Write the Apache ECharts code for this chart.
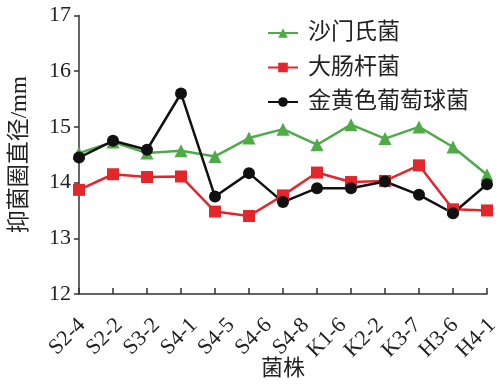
<!DOCTYPE html>
<html>
<head>
<meta charset="utf-8">
<script src="https://cdn.jsdelivr.net/npm/echarts@6/dist/echarts.min.js"></script>
<style>
  html, body { margin: 0; padding: 0; background: #fff; }
  #chart { width: 502px; height: 385px; }
</style>
</head>
<body>
<div id="chart"></div>
<script>
// Strain labels along the bottom axis
const strainLabels = ['S2-4', 'S2-2', 'S3-2', 'S4-1', 'S4-5', 'S4-6', 'S4-8', 'K1-6', 'K2-2', 'K3-7', 'H3-6', 'H4-1'];
// Measurement positions (one tick each)
const positions = ['1', '2', '3', '4', '5', '6', '7', '8', '9', '10', '11', '12', '13'];

// Inhibition zone diameters (mm)
const salmonella = [14.53, 14.73, 14.53, 14.57, 14.47, 14.80, 14.96, 14.68, 15.04, 14.79, 15.00, 14.64, 14.14];
const ecoli      = [13.87, 14.15, 14.10, 14.11, 13.48, 13.40, 13.77, 14.18, 14.01, 14.03, 14.31, 13.52, 13.50];
const saureus    = [14.45, 14.75, 14.59, 15.60, 13.75, 14.17, 13.65, 13.90, 13.90, 14.02, 13.78, 13.45, 13.97];

const seriesNames = ['沙门氏菌', '大肠杆菌', '金黄色葡萄球菌'];
const yTicks = { min: 12, max: 17, step: 1 };

const FONT = '"Liberation Serif", "Noto Sans CJK SC", serif';
const AXIS_COLOR = '#333';
const TEXT_COLOR = '#222';

const chart = echarts.init(document.getElementById('chart'), null, { renderer: 'canvas' });

function lineSeries(name, data, color, symbol, size) {
  return {
    name: name,
    type: 'line',
    xAxisIndex: 0,
    yAxisIndex: 0,
    data: data,
    symbol: symbol,
    symbolSize: size,
    lineStyle: { color: color, width: 2.5 },
    itemStyle: { color: color },
    animation: false
  };
}

chart.setOption({
  animation: false,
  backgroundColor: '#fff',
  grid: [
    // plotting area
    { left: 70, right: 15, top: 15.5, bottom: 81 },
    // strain label strip, nudged right of the tick row
    { left: 82, right: 3, top: 15.5, bottom: 81 }
  ],
  legend: {
    orient: 'vertical',
    left: 262,
    top: 16.5,
    itemWidth: 30,
    itemHeight: 12,
    itemGap: 11.5,
    data: seriesNames,
    textStyle: { fontFamily: FONT, fontSize: 23, color: TEXT_COLOR, padding: [0, 0, 0, 5] }
  },
  xAxis: [
    {
      type: 'category',
      gridIndex: 0,
      position: 'bottom',
      data: positions,
      boundaryGap: false,
      name: '菌株',
      nameLocation: 'middle',
      nameGap: 64,
      nameTextStyle: { fontFamily: FONT, fontSize: 22, color: TEXT_COLOR },
      axisLine: { lineStyle: { color: AXIS_COLOR, width: 1.5 } },
      axisTick: { inside: true, length: 6, lineStyle: { color: AXIS_COLOR, width: 1.5 } },
      axisLabel: { show: false },
      splitLine: { show: false }
    },
    {
      type: 'category',
      gridIndex: 1,
      position: 'bottom',
      data: strainLabels,
      boundaryGap: false,
      axisLine: { show: false },
      axisTick: { show: false },
      axisLabel: {
        rotate: 45,
        margin: 18,
        fontFamily: FONT,
        fontSize: 22,
        color: TEXT_COLOR,
        interval: 0
      },
      splitLine: { show: false }
    }
  ],
  yAxis: [
    {
      type: 'value',
      gridIndex: 0,
      min: yTicks.min,
      max: yTicks.max,
      interval: yTicks.step,
      name: '抑菌圈直径/mm',
      nameLocation: 'middle',
      nameGap: 48,
      nameTextStyle: { fontFamily: FONT, fontSize: 23, color: TEXT_COLOR },
      axisLine: { show: true, lineStyle: { color: AXIS_COLOR, width: 1.5 } },
      axisTick: { show: true, length: 5, lineStyle: { color: AXIS_COLOR, width: 1.5 } },
      axisLabel: { fontFamily: FONT, fontSize: 22, color: TEXT_COLOR, margin: 8 },
      splitLine: { show: false }
    },
    {
      type: 'value',
      gridIndex: 1,
      min: yTicks.min,
      max: yTicks.max,
      show: false
    }
  ],
  series: [
    lineSeries(seriesNames[0], salmonella, '#4fab48', 'triangle', 13),
    lineSeries(seriesNames[1], ecoli, '#e2262b', 'rect', 12),
    lineSeries(seriesNames[2], saureus, '#111111', 'circle', 12)
  ]
});
</script>
</body>
</html>
